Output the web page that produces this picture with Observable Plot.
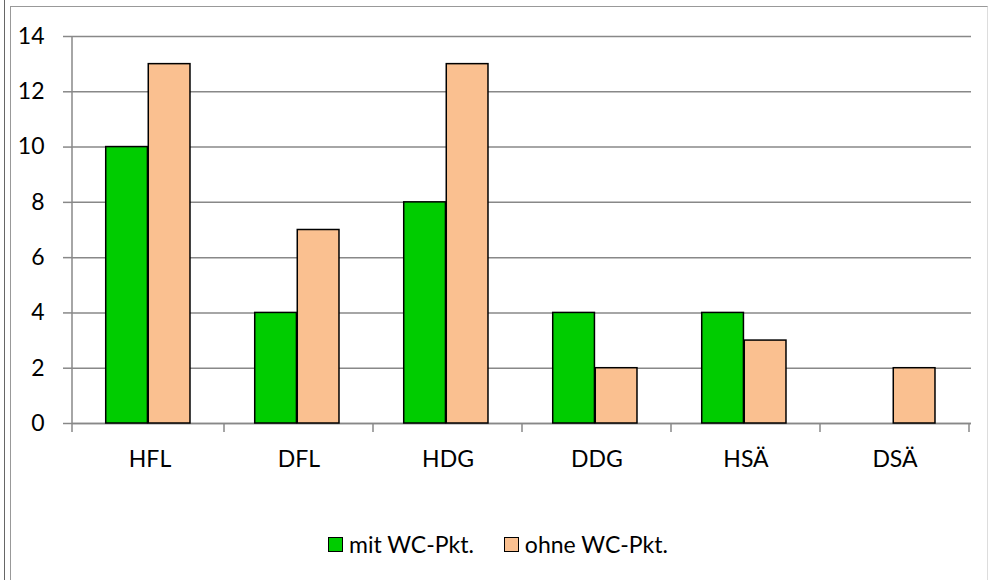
<!DOCTYPE html>
<html><head><meta charset="utf-8">
<script src="https://cdn.jsdelivr.net/npm/d3@7"></script>
<script src="https://cdn.jsdelivr.net/npm/@observablehq/plot@0.6"></script>
<style>
body{margin:0;background:#fff;font-family:Lato,"Open Sans",sans-serif;}
#wrap{position:relative;width:988px;height:580px;overflow:hidden;background:#fff}
#lineOuter{position:absolute;left:4px;top:0;width:0;height:580px;border-left:1px solid #666}
#box{position:absolute;left:10px;top:6px;width:976px;height:600px;border:1px solid #999;border-right-color:#ddd}
#chart{position:absolute;left:0;top:0}
#legend{position:absolute;left:328px;top:530px;display:flex;align-items:center;font-size:23px;color:#000;white-space:nowrap}
.sw{width:13px;height:13px;border:1.5px solid #000;display:inline-block;margin-right:6px}
.item{display:flex;align-items:center;margin-right:30px}
</style></head>
<body>
<div id="wrap">
<div id="lineOuter"></div>
<div id="box"></div>
<div id="chart"></div>
<div id="legend"></div>
</div>
<script>
const categories = ["HFL","DFL","HDG","DDG","HSÄ","DSÄ"];
const mitWC = [10,4,8,4,4,0];
const ohneWC = [13,7,13,2,3,2];
const yTicks = [0,2,4,6,8,10,12,14];
const seriesNames = ["mit WC-Pkt.","ohne WC-Pkt."];
const seriesColors = ["#00cc00","#fac090"];

const W = 988, H = 515, mL = 72, mR = 17, mT = 36, mB = 92;
const bw = (W - mL - mR) / categories.length;

const mitData = categories.map((c,i)=>({cat:c, series:seriesNames[0], value:mitWC[i]}));
const ohneData = categories.map((c,i)=>({cat:c, series:seriesNames[1], value:ohneWC[i]}));

function axisLines(index, scales, values, dims) {
  const x = scales.x, y = scales.y;
  const b = (x && x.bandwidth) ? x.bandwidth() : bw;
  const g = d3.create("svg:g").attr("stroke","#888").attr("stroke-width",1.5).attr("fill","none");
  const y0 = y(0);
  g.append("line").attr("x1",dims.marginLeft).attr("x2",dims.marginLeft)
    .attr("y1",y(d3.max(yTicks))).attr("y2",y0+9);
  categories.forEach(c => {
    const xe = x(c) + b;
    g.append("line").attr("x1",xe).attr("x2",xe).attr("y1",y0).attr("y2",y0+9);
  });
  return g.node();
}

const chart = Plot.plot({
  width: W, height: H,
  marginLeft: mL, marginRight: mR, marginTop: mT, marginBottom: mB,
  style: {fontFamily: "Lato, 'Open Sans', sans-serif", fontSize: "22px", color: "#000", background: "transparent"},
  x: {domain: categories, padding: 0, label: null},
  y: {domain: [0, 14], label: null},
  color: {domain: seriesNames, range: seriesColors},
  marks: [
    Plot.gridY(yTicks, {stroke: "#888", strokeOpacity: 1, strokeWidth: 1.5}),
    Plot.ruleY([0], {stroke: "#888", strokeWidth: 1.5}),
    Plot.barY(mitData, {x: "cat", y: "value", fill: "series", stroke: "#000", strokeWidth: 1.5,
      insetLeft: 0.205*bw, insetRight: 0.511*bw}),
    Plot.barY(ohneData, {x: "cat", y: "value", fill: "series", stroke: "#000", strokeWidth: 1.5,
      insetLeft: 0.489*bw, insetRight: 0.227*bw}),
    axisLines,
    Plot.axisY({ticks: yTicks, tickSize: 9, tickPadding: 19, stroke: "#888", strokeWidth: 1.5, fill: "#000", fontSize: 23, label: null}),
    Plot.axisX({tickSize: 0, tickPadding: 27, fill: "#000", fontSize: 23, label: null})
  ]
});
document.getElementById("chart").appendChild(chart);

const legend = document.getElementById("legend");
seriesNames.forEach((n,i) => {
  const it = document.createElement("div"); it.className = "item";
  const sw = document.createElement("span"); sw.className = "sw"; sw.style.background = seriesColors[i];
  const t = document.createElement("span"); t.textContent = n;
  it.appendChild(sw); it.appendChild(t); legend.appendChild(it);
});
</script>
</body></html>
